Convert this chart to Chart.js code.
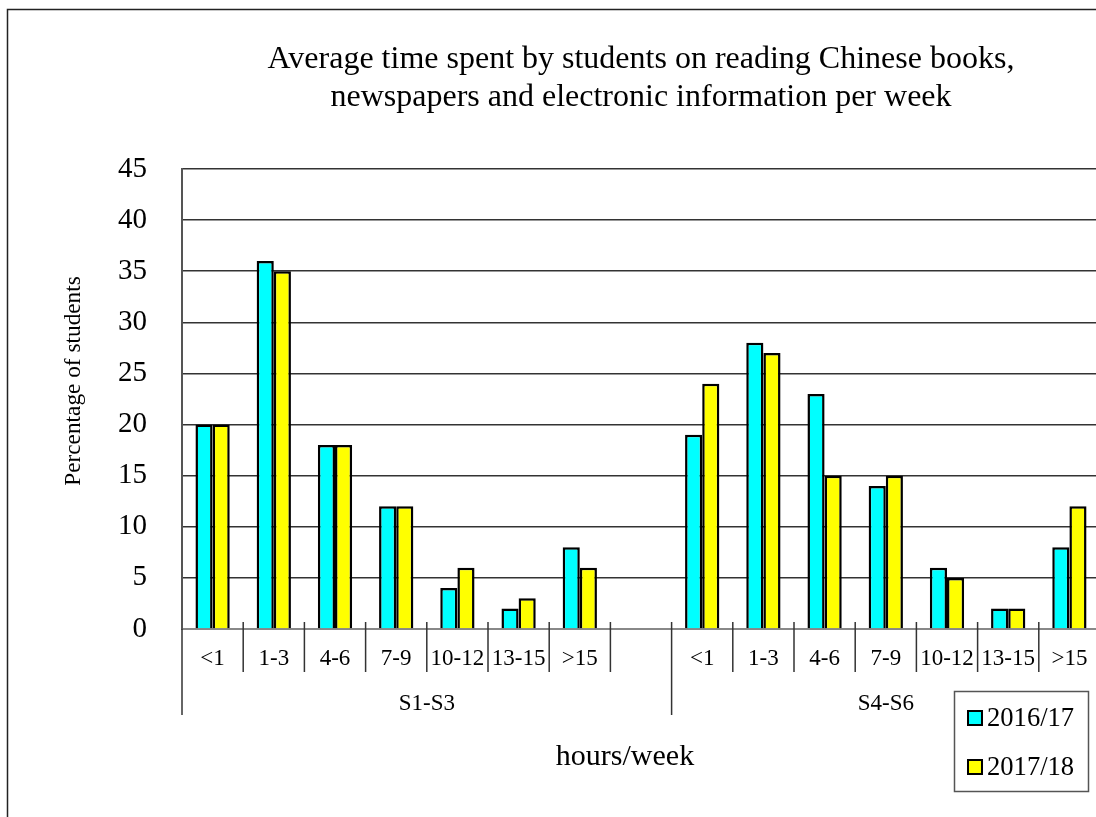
<!DOCTYPE html>
<html>
<head>
<meta charset="utf-8">
<script src="https://cdn.jsdelivr.net/npm/chart.js@4.4.1/dist/chart.umd.min.js"></script>
<style>
html,body{margin:0;padding:0;background:#fff;overflow:hidden;}
#wrap{position:absolute;left:0;top:0;width:1110px;height:830px;}
</style>
</head>
<body>
<div id="wrap"><canvas id="c" width="1110" height="830"></canvas></div>
<script>
// ---- data ----
const groups = ['S1-S3', 'S4-S6'];
const groupSlots = [8, 7];
const categories = ['<1','1-3','4-6','7-9','10-12','13-15','>15','',
                    '<1','1-3','4-6','7-9','10-12','13-15','>15'];
const series2016 = [20, 36, 18, 12, 4, 2, 8, null, 19, 28, 23, 14, 6, 2, 8];
const series2017 = [20, 35, 18, 12, 6, 3, 6, null, 24, 27, 15, 15, 5, 2, 12];
const seriesLabels = ['2016/17', '2017/18'];
const yTicks = [0, 5, 10, 15, 20, 25, 30, 35, 40, 45];
const titleLines = ['Average time spent by students on reading Chinese books,',
                    'newspapers and electronic information per week'];
const yTitle = 'Percentage of students';
const xTitle = 'hours/week';

const SERIF = "'Liberation Serif', 'Times New Roman', serif";

const decor = {
  id: 'decor',
  beforeDraw(chart) {
    const ctx = chart.ctx;
    ctx.save();
    ctx.fillStyle = '#fff';
    ctx.fillRect(0, 0, chart.width, chart.height);
    ctx.strokeStyle = '#222';
    ctx.lineWidth = 1.5;
    ctx.strokeRect(7.5, 9.5, chart.width - 4, chart.height - 4);
    ctx.restore();
  },
  afterDraw(chart) {
    const ctx = chart.ctx;
    const x = chart.scales.x;
    const area = chart.chartArea;
    const n = categories.length;
    const half = (x.getPixelForValue(1) - x.getPixelForValue(0)) / 2;
    ctx.save();
    // separators
    const groupBounds = [0];
    let acc = 0;
    groupSlots.forEach(s => { acc += s; groupBounds.push(acc); });
    ctx.strokeStyle = '#333';
    ctx.lineWidth = 1.5;
    for (let i = 0; i <= n; i++) {
      const px = x.getPixelForValue(i) - half;
      const isGroup = groupBounds.includes(i);
      ctx.beginPath();
      ctx.moveTo(px, i === 0 ? area.bottom : area.bottom - 7);
      ctx.lineTo(px, isGroup ? area.bottom + 86 : area.bottom + 43);
      ctx.stroke();
    }
    // group labels
    ctx.fillStyle = '#000';
    ctx.font = '23px ' + SERIF;
    ctx.textAlign = 'center';
    ctx.textBaseline = 'middle';
    for (let g = 0; g < groups.length; g++) {
      const a = x.getPixelForValue(groupBounds[g]) - half;
      const b = x.getPixelForValue(groupBounds[g + 1]) - half;
      ctx.fillText(groups[g], (a + b) / 2, area.bottom + 75);
    }
    // axis titles
    ctx.font = '30px ' + SERIF;
    ctx.fillText(xTitle, 625, 757);
    ctx.save();
    ctx.translate(74, 381);
    ctx.rotate(-Math.PI / 2);
    ctx.font = '23.3px ' + SERIF;
    ctx.fillText(yTitle, 0, 0);
    ctx.restore();
    // legend
    const lx = 954.5, ly = 691.5, lw = 134, lh = 100;
    ctx.fillStyle = '#fff';
    ctx.fillRect(lx, ly, lw, lh);
    ctx.strokeStyle = '#555';
    ctx.lineWidth = 1.5;
    ctx.strokeRect(lx, ly, lw, lh);
    chart.data.datasets.forEach((ds, i) => {
      const cy = 718 + i * 49;
      ctx.fillStyle = ds.backgroundColor;
      ctx.fillRect(968, cy - 7, 14, 14);
      ctx.strokeStyle = '#000';
      ctx.lineWidth = 2;
      ctx.strokeRect(968, cy - 7, 14, 14);
      ctx.fillStyle = '#000';
      ctx.font = '26.6px ' + SERIF;
      ctx.textAlign = 'left';
      ctx.fillText(ds.label, 987, cy + 1);
    });
    ctx.restore();
  }
};

new Chart(document.getElementById('c'), {
  type: 'bar',
  data: {
    labels: categories,
    datasets: [
      { label: seriesLabels[0], data: series2016, backgroundColor: '#00FFFF',
        borderColor: '#000', borderWidth: 2.5 },
      { label: seriesLabels[1], data: series2017, backgroundColor: '#FFFF00',
        borderColor: '#000', borderWidth: 2.5 }
    ]
  },
  options: {
    responsive: false,
    animation: false,
    devicePixelRatio: 1,
    categoryPercentage: 0.56,
    barPercentage: 1.0,
    layout: { padding: { top: 0, left: 0, right: 10, bottom: 0 } },
    plugins: {
      legend: { display: false },
      tooltip: { enabled: false },
      title: {
        display: true,
        fullSize: false,
        text: titleLines,
        color: '#000',
        font: { family: SERIF, size: 32, weight: 'normal', lineHeight: 38 / 32 },
        padding: { top: 41, bottom: 52 }
      }
    },
    scales: {
      x: {
        type: 'category',
        grid: { display: true, drawOnChartArea: false, drawTicks: false },
        border: { display: true, color: '#888', width: 2 },
        ticks: { color: '#000', font: { family: SERIF, size: 23 }, padding: 16,
                 autoSkip: false, maxRotation: 0 },
        afterFit(s) { s.height = 201; }
      },
      y: {
        min: 0, max: 45,
        afterBuildTicks(s) { s.ticks = yTicks.map(v => ({ value: v })); },
        grid: { color: ctx => ctx.tick && ctx.tick.value === 0 ? '#888' : '#333',
                lineWidth: 1.5, drawTicks: false },
        border: { display: true, color: '#555', width: 2 },
        ticks: { color: '#000', font: { family: SERIF, size: 29 }, padding: 35 },
        afterFit(s) { s.width = 182; }
      }
    }
  },
  plugins: [decor]
});
</script>
</body>
</html>
